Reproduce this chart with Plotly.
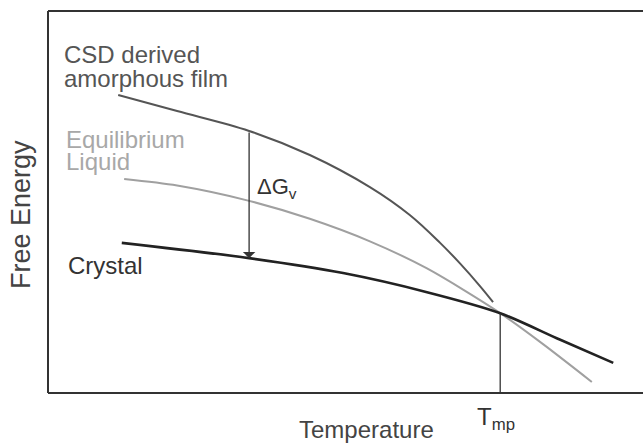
import plotly.graph_objects as go

# Free-energy curves (arbitrary units) versus temperature (arbitrary units)
amorphous_T = [11.8, 21.7, 33.8, 44.0, 54.1, 60.8, 65.9, 69.2, 72.6, 74.8]
amorphous_G = [78.0, 73.8, 68.6, 62.3, 53.9, 46.6, 39.3, 34.0, 28.0, 23.8]

liquid_T = [12.8, 21.7, 33.8, 44.0, 54.1, 63.7, 76.0, 83.2, 91.4]
liquid_G = [56.0, 54.3, 50.3, 45.6, 39.7, 32.6, 20.9, 12.8, 2.9]

crystal_T = [12.4, 33.8, 49.6, 63.7, 76.0, 86.0, 95.0]
crystal_G = [39.3, 35.3, 31.4, 26.4, 20.9, 14.0, 7.9]

# Melting point and driving-force arrow
T_mp = 76.0
G_mp = 20.9
dG_T = 33.8
dG_top = 68.6
dG_bottom = 35.3

W, H = 643, 443
ML, MR, MT, MB = 48, 0, 11, 50
PW = W - ML - MR
PH = H - MT - MB
FONT = "Liberation Sans, Arial, sans-serif"
FRAME = "#333333"


def px(x):
    return (x - ML) / PW


def py(y):
    return (H - MB - y) / PH


fig = go.Figure()

fig.add_trace(go.Scatter(x=amorphous_T, y=amorphous_G, mode="lines",
                         line=dict(color="#555555", width=2, shape="spline",
                                   smoothing=1.0),
                         hoverinfo="skip"))
fig.add_trace(go.Scatter(x=liquid_T, y=liquid_G, mode="lines",
                         line=dict(color="#a0a0a0", width=2, shape="spline",
                                   smoothing=0.8),
                         hoverinfo="skip"))
fig.add_trace(go.Scatter(x=crystal_T, y=crystal_G, mode="lines",
                         line=dict(color="#222222", width=2.6, shape="spline",
                                   smoothing=0.8),
                         hoverinfo="skip"))
fig.add_trace(go.Scatter(x=[T_mp, T_mp], y=[G_mp, 0], mode="lines",
                         line=dict(color="#333333", width=1.3),
                         hoverinfo="skip"))

# Open frame: left, top and bottom edges only
shapes = [
    dict(type="line", xref="paper", yref="paper", x0=0, x1=0, y0=0, y1=1,
         line=dict(color=FRAME, width=2)),
    dict(type="line", xref="paper", yref="paper", x0=0, x1=1, y0=1, y1=1,
         line=dict(color=FRAME, width=2)),
    dict(type="line", xref="paper", yref="paper", x0=0, x1=1, y0=0, y1=0,
         line=dict(color=FRAME, width=2)),
]

annotations = [
    # ΔGv arrow from amorphous film down to crystal
    dict(x=dG_T, y=dG_bottom, ax=dG_T, ay=dG_top, xref="x", yref="y",
         axref="x", ayref="y", showarrow=True, arrowhead=1, arrowsize=1.6,
         arrowwidth=1.3, arrowcolor="#333333", text=""),
]


def label(text, x, y, size=24, color="#444444", xanchor="left", **kw):
    annotations.append(dict(text=text, x=px(x), y=py(y), xref="paper",
                            yref="paper", showarrow=False, xanchor=xanchor,
                            yanchor="middle",
                            font=dict(family=FONT, size=size, color=color),
                            **kw))


label("CSD derived", 62, 54, color="#555555")
label("amorphous film", 62, 79, color="#555555")
label("Equilibrium", 64, 139, color="#a8a8a8")
label("Liquid", 64, 161, color="#a8a8a8")
label("Crystal", 66, 265, color="#333333")
label("ΔG<sub>v</sub>", 255, 188, size=22, color="#333333")
label("T<sub>mp</sub>", 475, 418, color="#333333")
label("Temperature", 366, 429, color="#444444", xanchor="center")
label("Free Energy", 21, 215, size=27, color="#444444", xanchor="center",
      textangle=-90)

fig.update_layout(
    width=W, height=H,
    margin=dict(l=ML, r=MR, t=MT, b=MB),
    paper_bgcolor="white", plot_bgcolor="white",
    showlegend=False,
    annotations=annotations,
    shapes=shapes,
    xaxis=dict(range=[0, 100], showgrid=False, zeroline=False,
               showticklabels=False, ticks="", showline=False),
    yaxis=dict(range=[0, 100], showgrid=False, zeroline=False,
               showticklabels=False, ticks="", showline=False),
)

fig.write_html("out.html")
